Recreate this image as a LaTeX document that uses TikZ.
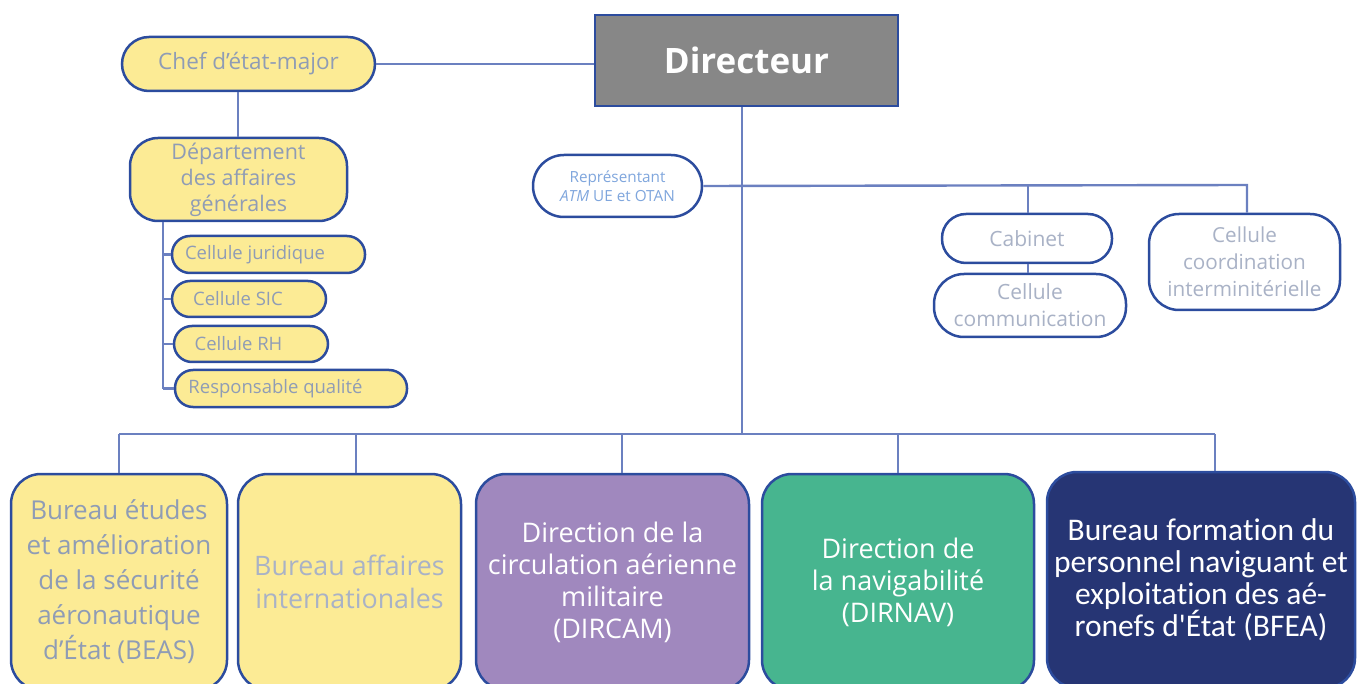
\documentclass[tikz,border=0pt]{standalone}
\usepackage{fontspec}
\setmainfont{Open Sans}
\newfontfamily\calib[Ligatures={NoCommon,NoContextual}]{Carlito}
\definecolor{bord}{HTML}{2C4C9E}
\definecolor{conn}{HTML}{6B80C0}
\definecolor{yel}{HTML}{FCEB95}
\definecolor{gtext}{HTML}{8F9CB5}
\definecolor{ltext}{HTML}{A9B2C6}
\definecolor{rblue}{HTML}{7FA6DD}
\definecolor{dgray}{HTML}{878787}
\definecolor{purp}{HTML}{A088BE}
\definecolor{grn}{HTML}{47B58F}
\definecolor{navy}{HTML}{263574}
\tikzset{
  box/.style={draw=bord, line width=2.5pt, inner sep=0pt, align=center},
  ybox/.style={box, fill=yel, text=gtext},
  wbox/.style={box, fill=white, text=ltext},
  conline/.style={draw=conn, line width=2.4pt},
}
\begin{document}
\begin{tikzpicture}[x=1pt,y=-1pt]
\useasboundingbox (0,0) rectangle (1357,684);
\clip (0,0) rectangle (1357,684);
% Director
\node[box, fill=dgray, text=white, minimum width=303pt, minimum height=91pt, font=\fontsize{35}{40}\selectfont\bfseries] (dir) at (746.5,60.5) {Directeur};
% Chef
\node[ybox, rounded corners=27pt, minimum width=253pt, minimum height=54pt, font=\fontsize{22.5}{26}\selectfont] (chef) at (248.5,64) {Chef d’état-major};
\node[ybox, rounded corners=28pt, minimum width=217pt, minimum height=83pt, font=\fontsize{21.5}{26}\selectfont] (dep) at (238.5,179.5) {Département\\des affaires\\générales};
% cellules
\node[ybox, rounded corners=18pt, minimum width=193pt, minimum height=37pt, font=\fontsize{18.5}{20}\selectfont] (jur) at (268.5,254.5) {Cellule juridique\hspace{27pt}};
\node[ybox, rounded corners=18pt, minimum width=154pt, minimum height=36pt, font=\fontsize{18.5}{20}\selectfont] (sic) at (249,299) {Cellule SIC\hspace{22pt}};
\node[ybox, rounded corners=18pt, minimum width=154pt, minimum height=36pt, font=\fontsize{18.5}{20}\selectfont] (rh) at (251,344) {Cellule RH\hspace{25pt}};
\node[ybox, rounded corners=18pt, minimum width=232pt, minimum height=37pt, font=\fontsize{18.5}{20}\selectfont] (qual) at (291,388.5) {Responsable qualité\hspace{31pt}};
% representant
\node[box, fill=white, text=rblue, rounded corners=31pt, minimum width=169pt, minimum height=62pt, font=\fontsize{15.3}{19}\selectfont] (rep) at (617.5,186) {Représentant\\\textit{ATM} UE et OTAN};
% right boxes
\node[wbox, rounded corners=24pt, minimum width=170pt, minimum height=49pt, font=\fontsize{21}{27}\selectfont] (cab) at (1027,238.5) {Cabinet};
\node[wbox, rounded corners=30pt, minimum width=192pt, minimum height=63pt, font=\fontsize{21}{27}\selectfont] (com) at (1030,305.5) {Cellule\\communication};
\node[wbox, rounded corners=30pt, minimum width=191pt, minimum height=96pt, font=\fontsize{20.7}{27}\selectfont] (coord) at (1244.5,262) {Cellule\\coordination\\interminitérielle};
% bottom boxes
\node[ybox, rounded corners=30pt, minimum width=216pt, minimum height=216pt, font=\fontsize{26}{35}\selectfont] (beas) at (119,582) {Bureau études\\et amélioration\\de la sécurité\\aéronautique\\d’État (BEAS)};
\node[ybox, text=ltext, rounded corners=30pt, minimum width=223pt, minimum height=216pt, font=\fontsize{26.8}{33}\selectfont] (bai) at (349.5,582) {Bureau affaires\\internationales};
\node[box, fill=purp, text=white, rounded corners=30pt, minimum width=273pt, minimum height=216pt, font=\fontsize{27}{32}\selectfont] (dircam) at (612.5,582) {Direction de la\\circulation aérienne\\militaire\\(DIRCAM)};
\node[box, fill=grn, text=white, rounded corners=30pt, minimum width=272pt, minimum height=216pt, font=\fontsize{27}{32}\selectfont] (dirnav) at (898,582) {Direction de\\la navigabilité\\(DIRNAV)};
\node[box, fill=navy, text=white, rounded corners=30pt, minimum width=308pt, minimum height=216pt, font=\calib\fontsize{31.5}{32}\selectfont] (bfea) at (1201,580) {Bureau forma\kern0pt tion du\\personnel naviguant et\\exploita\kern0pt tion des aé-\\ronefs d'État (BFEA)};
% connectors
\coordinate (bus) at (742,434);
\coordinate (tr) at (1247,185);
\draw[conline] (chef.east) -- (dir.west |- chef.east);
\draw[conline] (chef.south -| 238,0) -- (dep.north -| 238,0);
\draw[conline] (dir.south -| bus) -- (bus);
\draw[conline] (rep.east) -- (tr) -- (coord.north -| tr);
\draw[conline] (1028,185) -- (cab.north -| 1028,0);
\draw[conline] (cab.south -| 1028,0) -- (com.north -| 1028,0);
\draw[conline] (dep.south -| 163,0) -- (163,388.5);
\draw[conline] (163,254.5) -- (jur.west);
\draw[conline] (163,299) -- (sic.west);
\draw[conline] (163,344) -- (rh.west);
\draw[conline] (163,388.5) -- (qual.west);
\draw[conline] (119,434) -- (1215,434);
\draw[conline] (119,434) -- (beas.north);
\draw[conline] (356,434) -- (bai.north -| 356,0);
\draw[conline] (622,434) -- (dircam.north -| 622,0);
\draw[conline] (898,434) -- (dirnav.north);
\draw[conline] (1215,434) -- (bfea.north -| 1215,0);
\end{tikzpicture}
\end{document}
